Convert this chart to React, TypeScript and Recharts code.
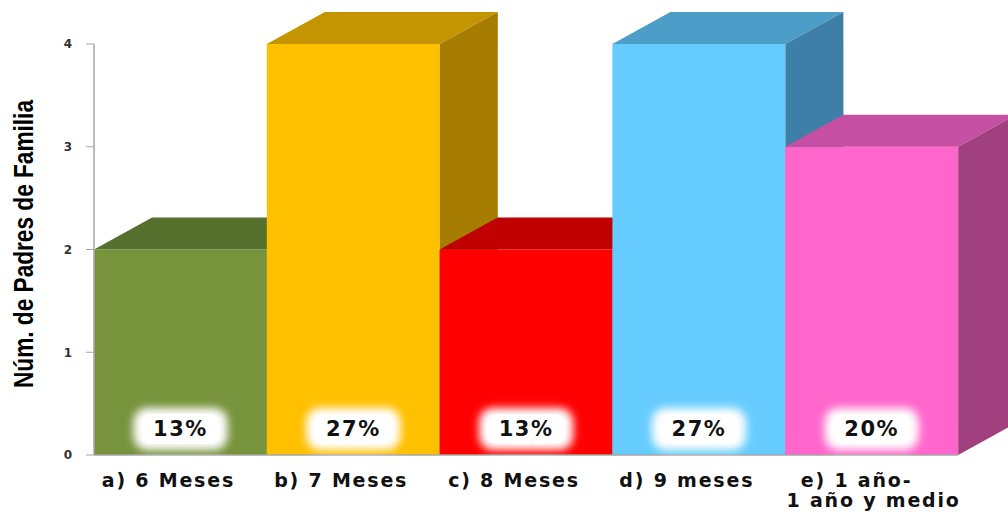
import { BarChart, Bar, XAxis, YAxis, LabelList } from 'recharts';

const categories = ['a) 6 Meses', 'b) 7 Meses', 'c) 8 Meses', 'd) 9 meses', 'e) 1 año-\n1 año y medio'];
const parents = [2, 4, 2, 4, 3];
const percents = ['13%', '27%', '13%', '27%', '20%'];
const yTicks = [0, 1, 2, 3, 4];

const frontColors = ['#77933C', '#FFC000', '#FF0000', '#66CCFF', '#FF66CC'];
const topColors = ['#56702E', '#C49500', '#C00000', '#4D9DC9', '#C54FA2'];
const sideColors = ['#4A5F26', '#A67D00', '#A00000', '#3D7FA6', '#A0407F'];

const data = categories.map((name, i) => ({ name, value: parents[i], pct: percents[i] }));

const DX = 58;
const DY = 32;

const Box3D = (props: any) => {
  const { x, y, width, height, payload } = props;
  const i = categories.indexOf(payload.name);
  const r = x + width;
  const b = y + height;
  return (
    <g>
      <rect x={x} y={y} width={width} height={height} fill={frontColors[i]} />
      <polygon
        points={`${x},${y} ${x + DX},${y - DY} ${r + DX},${y - DY} ${r},${y}`}
        fill={topColors[i]}
      />
      <polygon
        points={`${r},${y} ${r + DX},${y - DY} ${r + DX},${b - DY} ${r},${b}`}
        fill={sideColors[i]}
      />
    </g>
  );
};

const PctLabel = (props: any) => {
  const { x, y, width, height, value } = props;
  const cx = x + width / 2;
  const cy = y + height - 26;
  return (
    <g>
      <rect x={cx - 47} y={cy - 21} width={94} height={42} rx={14} fill="#fff" filter="url(#glow)" />
      <rect x={cx - 39} y={cy - 15} width={78} height={30} rx={10} fill="#fff" />
      <text
        x={cx}
        y={cy + 7}
        textAnchor="middle"
        fontFamily="'DejaVu Sans', Verdana, sans-serif"
        fontWeight="bold"
        fontSize={21}
        letterSpacing={1.5}
        fill="#111"
      >
        {value}
      </text>
    </g>
  );
};

// single-line labels sit a bit left of the bar centre; the two-line one is staggered
const lineShift = [[-12], [-12], [-12], [-12], [-15, 2]];

const CategoryTick = (props: any) => {
  const { x, y, payload, index } = props;
  const lines = String(payload.value).split('\n');
  const shifts = lineShift[index] || [-12];
  return (
    <g>
      {lines.map((line, k) => (
        <text
          key={k}
          x={x + (shifts[k] ?? -12)}
          y={y + 24 + k * 20}
          textAnchor="middle"
          fontFamily="'DejaVu Sans', Verdana, sans-serif"
          fontWeight="bold"
          fontSize={19}
          letterSpacing={1.8}
          fill="#111"
        >
          {line}
        </text>
      ))}
    </g>
  );
};

const YTitle = () => (
  <text
    transform="translate(33,244) rotate(-90)"
    textAnchor="middle"
    fontFamily="'Liberation Sans', Arial, sans-serif"
    fontWeight="bold"
    fontSize={27}
    textLength={288}
    lengthAdjust="spacingAndGlyphs"
    fill="#000"
  >
    Núm. de Padres de Familia
  </text>
);

export default function App() {
  return (
    <div style={{ position: 'absolute', left: 0, top: 0, background: '#fff' }}>
      <BarChart
        width={1008}
        height={514}
        data={data}
        margin={{ top: 44, right: 50, left: 0, bottom: 0 }}
        barCategoryGap={0}
      >
        <defs>
          <filter id="glow" x="-30%" y="-50%" width="160%" height="200%">
            <feGaussianBlur stdDeviation="4" />
          </filter>
        </defs>
        <XAxis
          dataKey="name"
          height={59}
          tick={<CategoryTick />}
          tickLine={false}
          axisLine={{ stroke: '#a6a6a6', strokeWidth: 1.5 }}
          interval={0}
        />
        <YAxis
          width={94}
          domain={[0, 4]}
          ticks={yTicks}
          tickSize={8}
          tickMargin={14}
          tickLine={{ stroke: '#a6a6a6' }}
          axisLine={{ stroke: '#a6a6a6', strokeWidth: 1.5 }}
          tick={{ fontFamily: "'DejaVu Sans', Verdana, sans-serif", fontSize: 12, fontWeight: 'bold', fill: '#333' }}
          label={<YTitle />}
        />
        <Bar dataKey="value" shape={<Box3D />} isAnimationActive={false}>
          <LabelList dataKey="pct" content={<PctLabel />} />
        </Bar>
      </BarChart>
    </div>
  );
}
